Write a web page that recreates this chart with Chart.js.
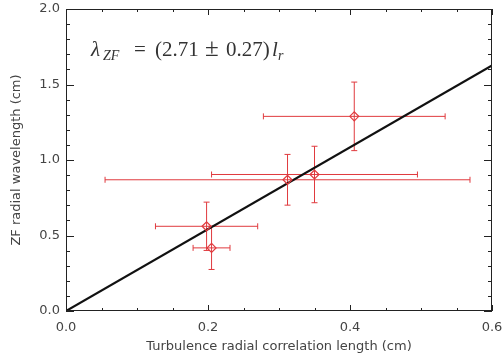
<!DOCTYPE html>
<html>
<head>
<meta charset="utf-8">
<script src="https://cdn.jsdelivr.net/npm/chart.js@4/dist/chart.umd.min.js"></script>
<style>
  body { margin: 0; background: #fff; }
  canvas { display: block; }
</style>
</head>
<body>
<canvas id="zfChart" width="503" height="356"></canvas>
<script>
// Mesures : longueur de corrélation radiale vs longueur d'onde ZF
const lr = [0.198, 0.205, 0.312, 0.350, 0.406];
const lrErr = [0.072, 0.026, 0.257, 0.145, 0.128];
const lzf = [0.561, 0.418, 0.869, 0.904, 1.289];
const lzfErr = [0.160, 0.143, 0.168, 0.187, 0.227];

// Ajustement lambda = 2.71 * l_r
const fitX = [0, 0.6];
const fitY = [0, 1.626];

const xTicks = [0.0, 0.2, 0.4, 0.6];
const yTicks = [0.0, 0.5, 1.0, 1.5, 2.0];

const red = '#e03a3e';
const axisColor = '#222222';
const textColor = '#444444';
const font = "'DejaVu Sans', sans-serif";

// barres d'erreur sous forme de segments (les extrémités = pointStyle 'line')
const errDatasets = [];
lr.forEach((v, i) => {
  const common = {
    type: 'line',
    borderColor: red,
    borderWidth: 1,
    pointStyle: 'line',
    pointRadius: 3,
    pointBorderColor: red,
    pointBorderWidth: 1,
    order: 2
  };
  errDatasets.push({ ...common, pointRotation: 90,
    data: [{ x: v - lrErr[i], y: lzf[i] }, { x: v + lrErr[i], y: lzf[i] }] });
  errDatasets.push({ ...common, pointRotation: 0,
    data: [{ x: v, y: lzf[i] - lzfErr[i] }, { x: v, y: lzf[i] + lzfErr[i] }] });
});

// cadre, graduations vers l'intérieur (style IDL) et formule
const frameBox = {
  id: 'frameBox',
  afterDraw(chart) {
    const ctx = chart.ctx;
    const a = chart.chartArea;
    const x = chart.scales.x;
    const y = chart.scales.y;
    const L = Math.round(a.left), R = Math.round(a.right);
    const T = Math.round(a.top), B = Math.round(a.bottom);
    ctx.save();
    ctx.fillStyle = axisColor;
    ctx.fillRect(L, T, R - L, 1);
    ctx.fillRect(L, B - 1, R - L, 1);
    ctx.fillRect(L, T, 1, B - T);
    ctx.fillRect(R - 1, T, 1, B - T);
    for (let k = 0; k <= 12; k++) {
      const px = Math.round(x.getPixelForValue(k * 0.05));
      const len = k % 4 === 0 ? 6 : 3;
      ctx.fillRect(px, B - len, 1, len);
      ctx.fillRect(px, T, 1, len);
    }
    for (let k = 0; k <= 20; k++) {
      const py = Math.round(y.getPixelForValue(k * 0.1));
      const len = k % 5 === 0 ? 8 : 4;
      ctx.fillRect(L, py, len, 1);
      ctx.fillRect(R - len, py, len, 1);
    }

    // formule
    const x0 = L + 25;
    const ty = T + 47;
    ctx.fillStyle = '#333333';
    ctx.textBaseline = 'alphabetic';
    ctx.textAlign = 'left';
    const part = (txt, f, dx, dy) => {
      ctx.font = f;
      ctx.fillText(txt, x0 + dx, ty + dy);
    };
    const big = "21px 'Liberation Serif', serif";
    const bigIt = "italic 21px 'Liberation Serif', serif";
    const small = "italic 14px 'Liberation Serif', serif";
    part('λ', bigIt, 0, 0);
    part('ZF', small, 12, 4);
    part('=', big, 43, 0);
    part('(2.71', big, 64, 0);
    part('±', "25px 'Liberation Serif', serif", 114, 0);
    part('0.27)', big, 135, 0);
    part('l', bigIt, 181, 0);
    part('r', small, 187, 4);
    ctx.restore();
  }
};

new Chart(document.getElementById('zfChart'), {
  type: 'scatter',
  data: {
    datasets: [{
      type: 'line',
      data: fitX.map((v, i) => ({ x: v, y: fitY[i] })),
      borderColor: '#111',
      borderWidth: 2.2,
      pointRadius: 0,
      order: 1
    }, {
      data: lr.map((v, i) => ({ x: v, y: lzf[i] })),
      pointStyle: 'rectRot',
      pointRadius: 4.5,
      borderColor: red,
      borderWidth: 1.2,
      backgroundColor: 'rgba(0,0,0,0)',
      order: 0
    }, ...errDatasets]
  },
  options: {
    responsive: false,
    maintainAspectRatio: false,
    animation: false,
    layout: { padding: { top: 9, right: 11, left: 0, bottom: 0 } },
    plugins: { legend: { display: false }, tooltip: { enabled: false } },
    scales: {
      x: {
        type: 'linear',
        min: 0, max: 0.6,
        afterFit: s => { s.height = 45; s.paddingLeft = 0; s.paddingRight = 0; },
        afterBuildTicks: s => { s.ticks = xTicks.map(v => ({ value: v })); },
        grid: { display: false, drawTicks: false },
        border: { display: false },
        ticks: { color: textColor, font: { family: font, size: 13 }, padding: 9,
                 callback: v => v.toFixed(1) },
        title: { display: true, text: 'Turbulence radial correlation length (cm)',
                 color: textColor, font: { family: font, size: 13 }, padding: { bottom: 2, top: 0 } }
      },
      y: {
        min: 0, max: 2.0,
        afterFit: s => { s.width = 66; s.paddingTop = 0; s.paddingBottom = 0; },
        afterBuildTicks: s => { s.ticks = yTicks.map(v => ({ value: v })); },
        grid: { display: false, drawTicks: false },
        border: { display: false },
        ticks: { color: textColor, font: { family: font, size: 13 }, padding: 6,
                 callback: v => v.toFixed(1) },
        title: { display: true, text: 'ZF radial wavelength (cm)',
                 color: textColor, font: { family: font, size: 13 }, padding: { top: 9, bottom: 0 } }
      }
    }
  },
  plugins: [frameBox]
});
</script>
</body>
</html>
